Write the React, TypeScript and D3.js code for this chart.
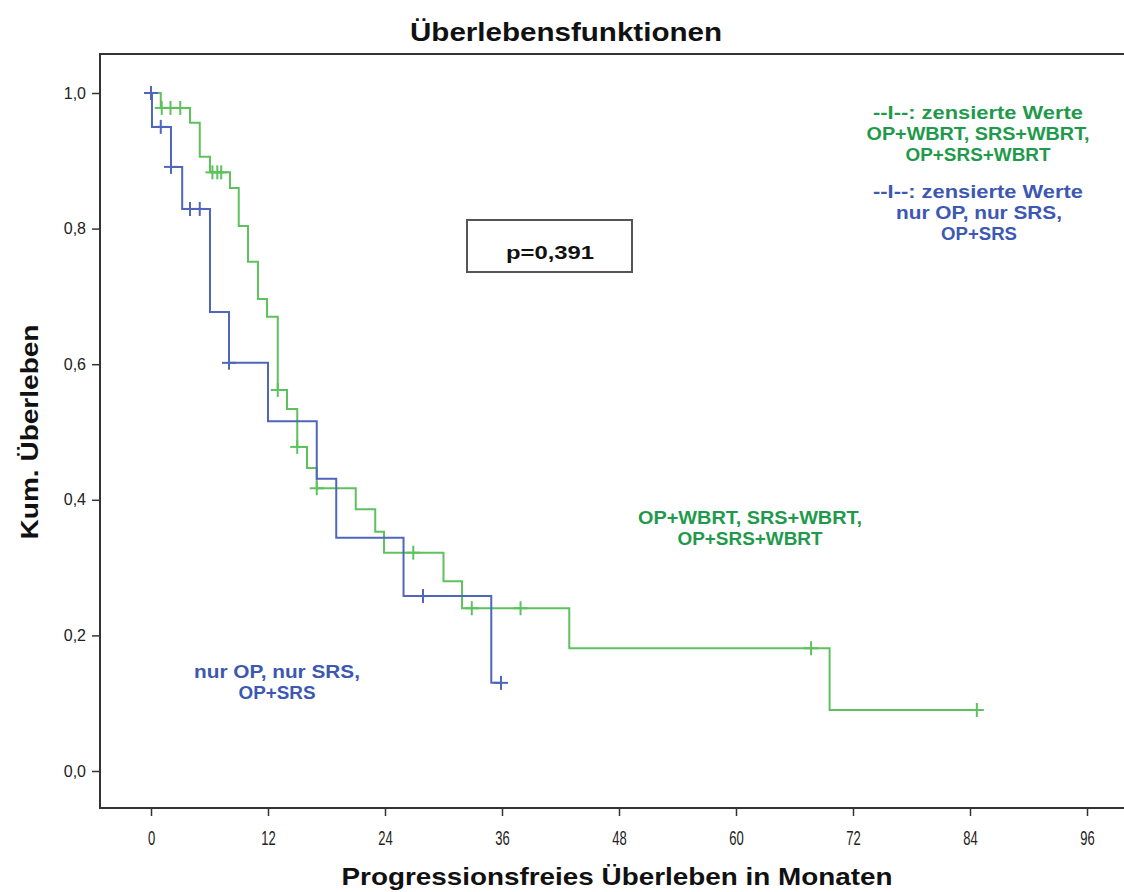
import React, { useEffect, useRef } from 'react';
import * as d3 from 'd3';

// Kaplan-Meier steps (months, cumulative survival after the drop)
const greenTimes = [1.0, 4.0, 5.0, 6.05, 8.1, 9.0, 9.95, 10.97, 11.9, 13.0, 13.95, 15.0, 16.0, 17.0, 21.0, 23.0, 23.9, 30.0, 31.9, 42.9, 69.6];
const greenSurv = [0.978, 0.956, 0.906, 0.883, 0.86, 0.804, 0.751, 0.696, 0.67, 0.562, 0.534, 0.478, 0.447, 0.417, 0.386, 0.353, 0.322, 0.28, 0.24, 0.181, 0.09];
const greenCensor = [1.1, 2.0, 3.0, 6.3, 6.8, 7.2, 13.0, 15.0, 17.0, 26.9, 32.9, 37.9, 67.7, 84.7];
const greenEnd = 84.7;

const blueTimes = [0.1, 2.05, 3.2, 6.05, 8.0, 12.0, 17.0, 19.0, 25.9, 34.9];
const blueSurv = [0.95, 0.891, 0.829, 0.677, 0.602, 0.516, 0.431, 0.344, 0.258, 0.13];
const blueCensor = [0, 1.0, 2.05, 4.0, 5.0, 8.0, 27.9, 35.9];
const blueEnd = 35.9;

const xTicks = [0, 12, 24, 36, 48, 60, 72, 84, 96];
const yTicks = [0, 0.2, 0.4, 0.6, 0.8, 1.0];

const greenLine = '#5dc25d';
const greenText = '#1f9a4c';
const blueLine = '#4f66ba';
const blueText = '#3d58b2';

const App = () => {
  const ref = useRef<SVGSVGElement>(null);

  useEffect(() => {
    const svg = d3.select(ref.current);
    svg.selectAll('*').remove();

    const x = d3.scaleLinear().domain([0, 96]).range([151, 1087]);
    const y = d3.scaleLinear().domain([0, 1]).range([771, 93]);

    // frame
    svg.append('rect')
      .attr('x', 100).attr('y', 54)
      .attr('width', 1040).attr('height', 754)
      .attr('fill', 'none').attr('stroke', '#333').attr('stroke-width', 2);

    // y axis
    const ya = svg.append('g').attr('transform', 'translate(100,0)')
      .call(d3.axisLeft(y).tickValues(yTicks).tickSize(8).tickPadding(6)
        .tickFormat((d) => d3.format('.1f')(+d).replace('.', ',')));
    ya.select('.domain').remove();
    ya.selectAll('line').attr('stroke', '#333').attr('stroke-width', 1.5);
    ya.selectAll('text').attr('font-family', 'Liberation Sans, Arial, sans-serif')
      .attr('font-size', 16).attr('fill', '#222');

    // x axis
    const xa = svg.append('g').attr('transform', 'translate(0,808)')
      .call(d3.axisBottom(x).tickValues(xTicks).tickSize(8).tickPadding(14));
    xa.select('.domain').remove();
    xa.selectAll('line').attr('stroke', '#333').attr('stroke-width', 1.5);
    xa.selectAll('text').attr('font-family', 'Liberation Sans, Arial, sans-serif')
      .attr('font-size', 21).attr('fill', '#222')
      .attr('transform', 'scale(0.62,1)');

    const curve = (times: number[], surv: number[], end: number) => {
      const pts: [number, number][] = [[0, 1]];
      times.forEach((t, i) => pts.push([t, surv[i]]));
      pts.push([end, surv[surv.length - 1]]);
      return pts;
    };
    const survAt = (times: number[], surv: number[], t: number) => {
      let s = 1;
      times.forEach((tt, i) => { if (tt <= t) s = surv[i]; });
      return s;
    };
    const line = d3.line<[number, number]>()
      .x((d) => x(d[0])).y((d) => y(d[1]))
      .curve(d3.curveStepAfter);

    const drawGroup = (times: number[], surv: number[], censor: number[], end: number, color: string) => {
      const g = svg.append('g');
      g.append('path')
        .attr('d', line(curve(times, surv, end)))
        .attr('fill', 'none').attr('stroke', color).attr('stroke-width', 2);
      const c = g.selectAll('g.c').data(censor).enter().append('g')
        .attr('transform', (d) => `translate(${x(d)},${y(survAt(times, surv, d))})`);
      c.append('line').attr('x1', -7).attr('x2', 7).attr('y1', 0).attr('y2', 0)
        .attr('stroke', color).attr('stroke-width', 2);
      c.append('line').attr('x1', 0).attr('x2', 0).attr('y1', -7).attr('y2', 7)
        .attr('stroke', color).attr('stroke-width', 2);
    };
    drawGroup(greenTimes, greenSurv, greenCensor, greenEnd, greenLine);
    drawGroup(blueTimes, blueSurv, blueCensor, blueEnd, blueLine);

    const text = (tx: number, ty: number, s: string, size: number, fill: string, len: number, rot = 0) => {
      svg.append('text')
        .attr('transform', `translate(${tx},${ty}) rotate(${rot})`)
        .attr('text-anchor', 'middle')
        .attr('font-family', 'Liberation Sans, Arial, sans-serif')
        .attr('font-weight', 'bold')
        .attr('font-size', size)
        .attr('fill', fill)
        .attr('textLength', len)
        .attr('lengthAdjust', 'spacingAndGlyphs')
        .text(s);
    };

    text(566, 41, 'Überlebensfunktionen', 25, '#111', 312);
    text(617, 885, 'Progressionsfreies Überleben in Monaten', 24, '#111', 551);
    text(38, 432, 'Kum. Überleben', 24, '#111', 215, -90);

    // p-value box
    svg.append('rect').attr('x', 467).attr('y', 220).attr('width', 165).attr('height', 52)
      .attr('fill', 'white').attr('stroke', '#555').attr('stroke-width', 2);
    text(550, 259, 'p=0,391', 19, '#111', 88);

    // legend notes
    text(978, 119, '--I--: zensierte Werte', 18, greenText, 210);
    text(978, 140, 'OP+WBRT, SRS+WBRT,', 18, greenText, 223);
    text(978, 161, 'OP+SRS+WBRT', 18, greenText, 145);
    text(978, 198, '--I--: zensierte Werte', 18, blueText, 210);
    text(979, 219, 'nur OP, nur SRS,', 18, blueText, 166);
    text(979, 240, 'OP+SRS', 18, blueText, 76);

    text(750, 524, 'OP+WBRT, SRS+WBRT,', 18, greenText, 224);
    text(750, 545, 'OP+SRS+WBRT', 18, greenText, 145);
    text(277, 678, 'nur OP, nur SRS,', 18, blueText, 166);
    text(277, 699, 'OP+SRS', 18, blueText, 77);
  }, []);

  return (
    <div>
      <svg ref={ref} width={1124} height={892}
        style={{ position: 'absolute', left: 0, top: 0, background: 'white' }} />
    </div>
  );
};

export default App;
